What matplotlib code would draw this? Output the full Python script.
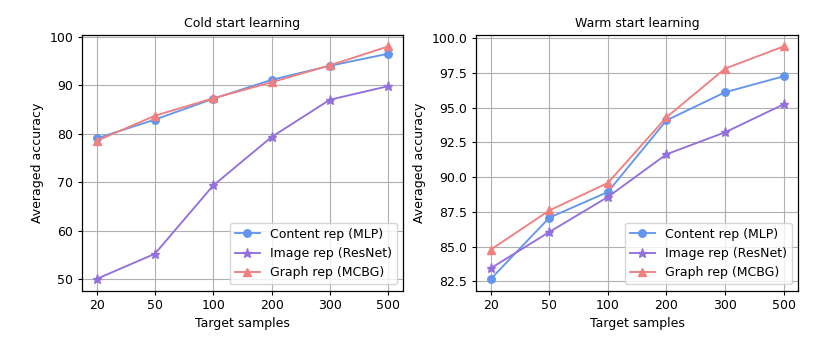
import matplotlib
matplotlib.use("Agg")
import matplotlib.pyplot as plt

samples = ["20", "50", "100", "200", "300", "500"]

cold_content = [79.0, 82.9, 87.2, 91.1, 94.0, 96.5]
cold_image = [50.0, 55.2, 69.3, 79.3, 87.0, 89.8]
cold_graph = [78.5, 83.7, 87.3, 90.6, 94.1, 98.0]

warm_content = [82.67, 87.08, 88.93, 94.08, 96.1, 97.25]
warm_image = [83.44, 86.05, 88.57, 91.64, 93.22, 95.23]
warm_graph = [84.78, 87.6, 89.58, 94.3, 97.8, 99.4]

# the reference looks like a default-style figure shrunk by ~0.9
plt.rcParams.update({
    "font.size": 9,
    "lines.linewidth": 1.35,
    "axes.titlepad": 5.4,
    "axes.labelpad": 3.6,
    "xtick.major.size": 3.2,
    "ytick.major.size": 3.2,
    "xtick.major.pad": 3.2,
    "ytick.major.pad": 3.2,
    "axes.linewidth": 0.9,
    "grid.linewidth": 0.8,
})

fig = plt.figure(figsize=(8.31, 3.48), dpi=100)
ax1 = fig.add_axes([0.0987, 0.165, 0.386, 0.735])
ax2 = fig.add_axes([0.573, 0.165, 0.3875, 0.735])

panels = [
    (ax1, "Cold start learning", cold_content, cold_image, cold_graph),
    (ax2, "Warm start learning", warm_content, warm_image, warm_graph),
]

x = range(len(samples))
for ax, title, content, image, graph in panels:
    ax.plot(x, content, color="cornflowerblue", marker="o", markersize=5.4, label="Content rep (MLP)")
    ax.plot(x, image, color="mediumpurple", marker="*", markersize=6.5, label="Image rep (ResNet)")
    ax.plot(x, graph, color="lightcoral", marker="^", markersize=5.4, label="Graph rep (MCBG)")
    ax.set_xticks(list(x))
    ax.set_xticklabels(samples)
    ax.set_title(title, fontsize=9)
    ax.set_xlabel("Target samples")
    ax.set_ylabel("Averaged accuracy")
    ax.grid(True)
    ax.legend(loc="lower right")

ax2.set_yticks([82.5, 85.0, 87.5, 90.0, 92.5, 95.0, 97.5, 100.0])

plt.savefig("out.png")
